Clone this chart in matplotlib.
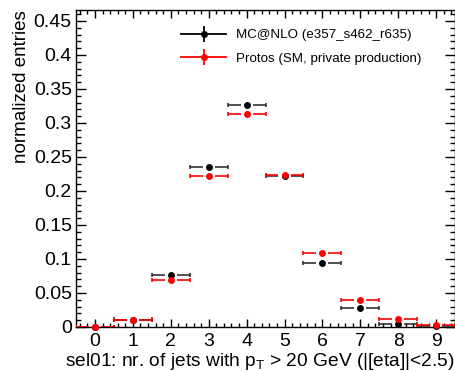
import matplotlib
matplotlib.use("Agg")
import matplotlib.pyplot as plt
import numpy as np
from matplotlib.lines import Line2D
from matplotlib.legend_handler import HandlerTuple

plt.rcParams['font.family'] = ['Liberation Sans', 'DejaVu Sans']

njets = [0, 1, 2, 3, 4, 5, 6, 7, 8, 9]
mcnlo = [0.0005, 0.010, 0.076, 0.235, 0.327, 0.222, 0.0945, 0.0275, 0.005, 0.001]
protos = [0.0003, 0.011, 0.0685, 0.222, 0.313, 0.223, 0.1085, 0.040, 0.0115, 0.0025]
mcnlo_label = "MC@NLO (e357_s462_r635)"
protos_label = "Protos (SM, private production)"
xlabel = r"sel01: nr. of jets with p$_\mathregular{T}$ > 20 GeV (|[eta]|<2.5)"
ylabel = "normalized entries"

fig = plt.figure(figsize=(4.56, 3.71), dpi=100)
ax = fig.add_axes([0.1667, 0.1186, 0.8313, 0.8544])

x = np.array(njets, dtype=float)
half = 0.5
gap = 0.16

def draw(yvals, color, lcolor, z):
    y = np.array(yvals)
    ax.hlines(y, x - half, x - gap, color=lcolor, lw=1.2, zorder=z)
    ax.hlines(y, x + gap, x + half, color=lcolor, lw=1.2, zorder=z)
    ax.vlines(x - half, y - 0.003, y + 0.003, color=lcolor, lw=1.2, zorder=z)
    ax.vlines(x + half, y - 0.003, y + 0.003, color=lcolor, lw=1.2, zorder=z)
    ax.plot(x, y, 'o', color=color, ms=5, mew=0, zorder=z + 1, clip_on=False)

draw(mcnlo, 'black', '#333333', 3)
draw(protos, 'red', 'red', 4)

ax.set_xlim(-0.5, 9.5)
ax.set_ylim(0, 0.466)
ax.set_xticks(range(0, 10))
ax.set_xticks(np.arange(-0.4, 9.5, 0.2), minor=True)
ax.set_yticks(np.arange(0, 0.46, 0.05))
ax.set_yticklabels(['0', '0.05', '0.1', '0.15', '0.2', '0.25', '0.3', '0.35', '0.4', '0.45'])
ax.set_yticks(np.arange(0, 0.466, 0.01), minor=True)
ax.tick_params(which='both', direction='in', top=True, right=True, labelsize=14, width=1)
ax.tick_params(axis='y', which='major', length=7, pad=3)
ax.tick_params(axis='y', which='minor', length=3.5)
ax.tick_params(axis='x', which='major', length=6, pad=4)
ax.tick_params(axis='x', which='minor', length=3)
for s in ax.spines.values():
    s.set_linewidth(1)

ax.set_xlabel(xlabel, fontsize=13.8, loc='right', labelpad=1)
ax.set_ylabel(ylabel, fontsize=13.5, loc='top', labelpad=3)

def handle(c):
    l = Line2D([], [], color=c, lw=1.3, marker='|', ms=11, mew=1.3)
    m = Line2D([], [], color=c, marker='o', ls='none', ms=5, mew=0)
    return (l, m)

ax.legend([handle('black'), handle('red')], [mcnlo_label, protos_label],
          handler_map={tuple: HandlerTuple(ndivide=1)},
          loc='upper left', bbox_to_anchor=(0.245, 0.978), frameon=False,
          fontsize=9.6, handlelength=3.4, handletextpad=0.75, labelspacing=0.85)

fig.savefig('out.png', dpi=100)
